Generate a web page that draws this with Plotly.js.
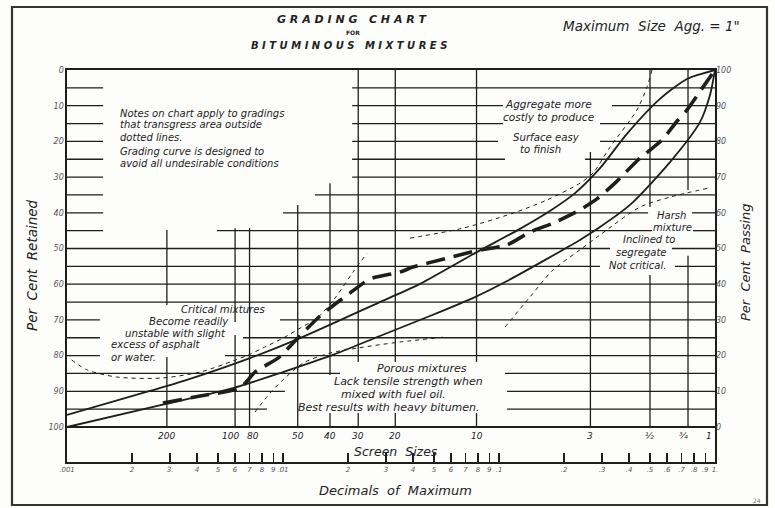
<!DOCTYPE html>
<html><head><meta charset="utf-8">
<script src="https://cdn.plot.ly/plotly-3.0.1.min.js"></script>
<style>html,body{margin:0;padding:0;background:#fff;}#chart{width:775px;height:508px;}</style>
</head><body><div id="chart"></div>
<script>
// ---- DATA (x = decimal of maximum size, y = per cent passing) ----
const fineLimitX = [0.001,0.00242,0.00359,0.00703,0.0120,0.0281,0.0431,0.0774,0.125,0.172,0.2249,0.2935,0.391,0.556,0.742,1.0];
const fineLimitY = [3.4,10.1,13.2,19.3,24.9,35.0,40.1,48.7,55.5,60.5,65.5,72.5,82.1,91.9,97.5,100];
const coarseLimitX = [0.001,0.00284,0.00587,0.01,0.0170,0.0281,0.0479,0.0774,0.109,0.1668,0.237,0.2935,0.404,0.619,0.852,0.948,1.0];
const coarseLimitY = [0,6.4,10.9,15.4,20.2,25.5,31.1,36.4,40.9,47.1,52.4,56.0,62.2,74.2,85.4,93.0,100];
const gradingX = [0.00278,0.00413,0.00632,0.00742,0.00948,0.01137,0.01484,0.0204,0.0253,0.0348,0.0400,0.0574,0.0817,0.109,0.139,0.178,0.237,0.287,0.344,0.440,0.568,0.674,0.742,0.880,1.0];
const gradingY = [6.7,8.7,10.9,15.4,19.3,24.1,31.1,37.5,41.5,43.4,44.8,47.3,49.6,51.0,54.6,57.1,60.8,64.1,68.3,74.8,80.4,86.0,88.8,95.2,100];
const criticalX = [0.00105,0.00124,0.00170,0.00270,0.00413,0.00587,0.00703,0.00843,0.01,0.0120,0.01436,0.0174,0.0211,0.0245];
const criticalY = [18.8,16.0,14.0,13.7,15.4,18.5,20.4,22.7,24.9,27.7,30.5,36.1,43.4,48.7];
const porousX = [0.00742,0.00871,0.01,0.01238,0.0165,0.0220,0.0348,0.0562];
const porousY = [4.2,9.5,13.2,17.9,20.7,22.1,23.8,25.2];
const harshX = [0.1066,0.139,0.178,0.237,0.2935,0.4496,0.619,0.93];
const harshY = [28.0,36.4,44.0,49.6,53.8,61.6,64.4,66.9];
const costlyX = [0.0387,0.0681,0.1161,0.1668,0.237,0.272,0.3265,0.435,0.484,0.511];
const costlyY = [52.9,55.7,59.9,63.6,68.3,71.1,78.4,88.8,95.2,100];

const screenLabels = ['200','100','80','50','40','30','20','10','3','½','¾','1'];
const screenDecimals = [0.0029,0.0060,0.0070,0.0117,0.0165,0.0223,0.0331,0.0787,0.265,0.5,0.75,1.0];

const decimalTicks = [0.001,0.002,0.003,0.004,0.005,0.006,0.007,0.008,0.009,0.01,0.02,0.03,0.04,0.05,0.06,0.07,0.08,0.09,0.1,0.2,0.3,0.4,0.5,0.6,0.7,0.8,0.9,1];
const decimalTickText = ['.001','2','3.','4','5','6','7','8','9','.01','2','3','4','5','6','7','8','9','.1','.2','.3','.4','.5','.6','.7','.8','.9','1.'];

const retainedTicks = [0,10,20,30,40,50,60,70,80,90,100];
const passingTicks = [0,10,20,30,40,50,60,70,80,90,100];

// ---- grid structure (broken around lettering) ----
const gridLevelsRetained = [5,10,15,20,25,30,35,40,45,50,55,60,65,70,75,80,85,90,95];
const gridRuns = [
 [[.001,.00147],[.0209,1]],
 [[.001,.00147],[.0209,.1043],[.3334,1]],
 [[.001,.00147],[.0209,.1043],[.2935,1]],
 [[.001,.00147],[.0209,.0989],[.2935,1]],
 [[.001,.00147],[.0209,.1066],[.250,1]],
 [[.001,.00147],[.0209,1]],
 [[.001,.00147],[.01406,1]],
 [[.001,.00147],[.01,.490],[.783,1]],
 [[.001,.00147],[.00494,.511],[.791,1]],
 [[.001,.3265],[.632,1]],
 [[.001,.2935],[.653,1]],
 [[.001,1]],
 [[.001,1]],
 [[.001,.00142],[.00968,1]],
 [[.001,.00142],[.00653,1]],
 [[.001,.00142],[.00539,1]],
 [[.001,.01836],[.1066,1]],
 [[.001,.0102],[.109,1]],
 [[.001,.00843],[.109,1]]
];
const vRuns = [
 [[55.2,34.2],[19.6,0]],
 [[55.7,29.4],[25.8,0]],
 [[55.7,0]],
 [[62.2,0]],
 [[68.3,14.6],[3.9,0]],
 [[100,18.2],[3.9,0]],
 [[100,18.2],[3.9,0]],
 [[100,18.2],[3.9,0]],
 [[77.0,0]],
 [[100,61.6],[42.6,0]],
 [[100,66.4],[48,0]],
 []
];

const INK = '#1e1e1e';
const FONT = 'DejaVu Sans, sans-serif';

const gx = [], gy = [];
gridLevelsRetained.forEach((r, i) => {
  gridRuns[i].forEach(seg => { gx.push(seg[0], seg[1], null); gy.push(100 - r, 100 - r, null); });
});
screenDecimals.forEach((d, i) => {
  vRuns[i].forEach(seg => { gx.push(d, d, null); gy.push(seg[0], seg[1], null); });
});

const traces = [
  {x: gx, y: gy, mode: 'lines', line: {color: INK, width: 1.3}, hoverinfo: 'skip'},
  {x: [0.001, 1], y: [0, 0], mode: 'lines', line: {color: INK, width: 2.2}, hoverinfo: 'skip'},
  {x: fineLimitX, y: fineLimitY, mode: 'lines', line: {color: INK, width: 1.8, shape: 'spline', smoothing: 0.7}},
  {x: coarseLimitX, y: coarseLimitY, mode: 'lines', line: {color: INK, width: 1.8, shape: 'spline', smoothing: 0.7}},
  {x: gradingX, y: gradingY, mode: 'lines', line: {color: INK, width: 3.6, dash: '19px,9px', shape: 'spline', smoothing: 0.6}},
  {x: criticalX, y: criticalY, mode: 'lines', line: {color: INK, width: 1, dash: '4px,4px', shape: 'spline', smoothing: 0.8}},
  {x: porousX, y: porousY, mode: 'lines', line: {color: INK, width: 1, dash: '4px,4px', shape: 'spline', smoothing: 0.8}},
  {x: harshX, y: harshY, mode: 'lines', line: {color: INK, width: 1, dash: '4px,4px', shape: 'spline', smoothing: 0.8}},
  {x: costlyX, y: costlyY, mode: 'lines', line: {color: INK, width: 1, dash: '4px,4px', shape: 'spline', smoothing: 0.8}},
  {x: [0.01], y: [50], yaxis: 'y2', mode: 'markers', marker: {opacity: 0}, hoverinfo: 'skip'}
];

// pixel -> paper helpers (plot area 67..715 x 70..462)
const PX = px => (px - 67) / 648;
const PY = py => (462 - py) / 392;
function note(text, px, py, anchor, size, extra) {
  return Object.assign({text: '<i>' + text + '</i>', xref: 'paper', yref: 'paper', x: PX(px), y: PY(py),
    xanchor: anchor, yanchor: 'middle', showarrow: false, borderpad: 0,
    font: {family: FONT, size: size, color: '#222', style: 'italic'}}, extra || {});
}

const annotations = [
  note('Notes on chart apply to gradings', 119, 113, 'left', 10),
  note('that transgress area outside', 119, 125, 'left', 10),
  note('dotted lines.', 119, 137, 'left', 10),
  note('Grading curve is designed to', 119, 151, 'left', 10),
  note('avoid all undesirable conditions', 119, 163, 'left', 10),
  note('Aggregate more', 548, 104, 'center', 10.5),
  note('costly to produce', 548, 117, 'center', 10.5),
  note('Surface easy', 546, 137, 'center', 10.2),
  note('to finish', 540, 149, 'center', 10.2),
  note('Harsh', 671, 215, 'center', 10),
  note('mixture', 672, 227, 'center', 10),
  note('Inclined to', 649, 239, 'center', 10),
  note('segregate', 641, 252, 'center', 10),
  note('Not critical.', 637, 265, 'center', 10),
  note('Critical mixtures', 223, 309, 'center', 10.2),
  note('Become readily', 189, 321, 'center', 10.2),
  note('unstable with slight', 175, 333, 'center', 10.2),
  note('excess of asphalt', 110, 345, 'left', 10.2),
  note('or water.', 110, 357, 'left', 10.2),
  note('Porous mixtures', 422, 368, 'center', 11),
  note('Lack tensile strength when', 408, 381, 'center', 11),
  note('mixed with fuel oil.', 393, 394, 'center', 11),
  note('Best results with heavy bitumen.', 389, 407, 'center', 11),
  note('Screen  Sizes', 396, 443, 'center', 12.5, {yanchor: 'top'}),
  note('Decimals  of  Maximum', 395, 490, 'center', 13),
  note('Per  Cent  Retained', 32, 265, 'center', 13.5, {textangle: -90}),
  note('Per  Cent  Passing', 745, 262, 'center', 13, {textangle: -90}),
  note('Maximum  Size  Agg. = 1"', 651, 26, 'center', 13.5),
  {text: '<b><i>G R A D I N G   C H A R T</i></b>', xref: 'paper', yref: 'paper', x: PX(352), y: PY(20), showarrow: false,
   xanchor: 'center', yanchor: 'middle', font: {family: FONT, size: 11, color: '#222'}},
  {text: '<b>FOR</b>', xref: 'paper', yref: 'paper', x: PX(353), y: PY(33), showarrow: false,
   xanchor: 'center', yanchor: 'middle', font: {family: FONT, size: 6, color: '#222'}},
  {text: '<b><i>B I T U M I N O U S   M I X T U R E S</i></b>', xref: 'paper', yref: 'paper', x: PX(349), y: PY(45), showarrow: false,
   xanchor: 'center', yanchor: 'middle', font: {family: FONT, size: 10, color: '#222'}},
  {text: '24', xref: 'paper', yref: 'paper', x: PX(757), y: PY(500), showarrow: false,
   xanchor: 'center', yanchor: 'middle', font: {family: FONT, size: 6, color: '#777'}}
];
const screenShift = [0,-5,3,0,0,0,0,0,0,0,-5,-2];
screenLabels.forEach((s, i) => {
  const last = i === screenLabels.length - 1;
  annotations.push({text: '<i>' + s + '</i>', xref: 'x', yref: 'paper', x: Math.log10(screenDecimals[i]), y: PY(442),
    showarrow: false, xanchor: last ? 'right' : 'center', yanchor: 'bottom', xshift: screenShift[i], borderpad: 0,
    font: {family: FONT, size: 9, color: '#222', style: 'italic'}});
});

const tickFont = {family: FONT, size: 8, color: '#555', style: 'italic'};
const layout = {
  width: 775, height: 508,
  margin: {l: 67, r: 60, t: 70, b: 46, pad: 0},
  paper_bgcolor: '#fdfdfc', plot_bgcolor: '#fdfdfc',
  showlegend: false, hovermode: false,
  xaxis: {type: 'log', range: [-3, 0], tickvals: decimalTicks, ticktext: decimalTickText,
    ticks: 'inside', ticklen: 9, tickwidth: 1.2, tickcolor: INK, tickangle: 0,
    showline: true, linecolor: INK, linewidth: 1.6, mirror: true,
    showgrid: false, zeroline: false, tickfont: {family: FONT, size: 7, color: '#555', style: 'italic'}, fixedrange: true},
  yaxis: {range: [-9.8, 100], tickvals: retainedTicks.map(r => 100 - r), ticktext: retainedTicks.map(String),
    ticks: '', showline: true, linecolor: INK, linewidth: 1.6, mirror: true,
    showgrid: false, zeroline: false, tickfont: tickFont, fixedrange: true},
  yaxis2: {range: [-9.8, 100], overlaying: 'y', side: 'right', tickvals: passingTicks, ticktext: passingTicks.map(String),
    ticks: '', showline: false, showgrid: false, zeroline: false, tickfont: tickFont, fixedrange: true},
  shapes: [
    {type: 'rect', xref: 'paper', yref: 'paper', x0: PX(12), x1: PX(767), y0: PY(505), y1: PY(7),
     line: {color: '#333', width: 2.2}, fillcolor: 'rgba(0,0,0,0)', layer: 'below'}
  ],
  annotations: annotations
};

Plotly.newPlot('chart', traces, layout, {staticPlot: true, displayModeBar: false});
</script>
</body></html>
